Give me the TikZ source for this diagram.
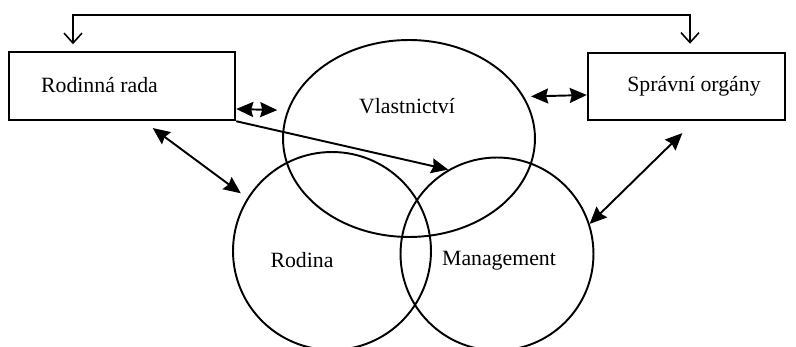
\documentclass[tikz,border=0pt]{standalone}
\usepackage{fontspec}
\setmainfont{Liberation Serif}
\usetikzlibrary{arrows.meta,shapes.geometric}

\begin{document}
\begin{tikzpicture}[x=0.02cm, y=-0.02cm, line width=1.1pt,
	box node/.style={draw,rectangle,inner sep=0pt,line width=1.4pt},
	set node/.style={draw,inner sep=0pt},
	word/.style={font=\fontsize{12.4}{14}\selectfont,inner sep=0pt,anchor=base},
	tip/.tip={Stealth[length=0.34cm,width=0.3cm,inset=0.04cm]},
	both/.style={tip-tip},
	one/.style={-tip},
	open/.style={{Straight Barb[length=0.2cm,width=0.36cm]}-{Straight Barb[length=0.2cm,width=0.36cm]},line width=0.9pt}]
	
	\useasboundingbox (0,0) rectangle (796,347);
	
	\node[box node,minimum width=4.52cm,minimum height=1.36cm] (rada) at (122,86) {};
	\node[box node,minimum width=3.94cm,minimum height=1.34cm] (sprav) at (686.5,86.5) {};
	\node[set node,ellipse,minimum width=5.04cm,minimum height=3.94cm] (vl) at (409,138.5) {};
	\node[set node,circle,minimum size=3.96cm] (rod) at (332,251) {};
	\node[set node,circle,minimum size=3.86cm] (mg) at (497,254) {};
	
	\node[word] (radatext) at (99.5,93) {Rodinná rada};
	\node[word] (spravtext) at (694,92) {Správní orgány};
	\node[word] (vltext) at (407,114) {Vlastnictví};
	\node[word] (rodtext) at (302,268) {Rodina};
	\node[word] (mgtext) at (499,266) {Management};
	
	\coordinate (topl) at (73,15);
	\coordinate (topr) at (690,15);
	
	\draw[open,shorten <=0.13cm,shorten >=0.16cm] (rada.north -| topl) -- (topl) -- (topr) -- (sprav.north -| topr);
	
	\draw[both,shorten >=0.2cm] ([yshift=-0.46cm]rada.east) -- (vl.167);
	\draw[both,shorten <=0.14cm] (vl.20) -- ([yshift=-0.17cm]sprav.west);
	\draw[one] (rada.south east) -- (mg.120);
	\draw[both,shorten <=0.23cm,shorten >=0.16cm] ([xshift=0.43cm]rada.south) -- (rod.148);
	\draw[both,shorten <=0.34cm] ([xshift=0.16cm]sprav.south) -- (mg.18);
\end{tikzpicture}
\end{document}
